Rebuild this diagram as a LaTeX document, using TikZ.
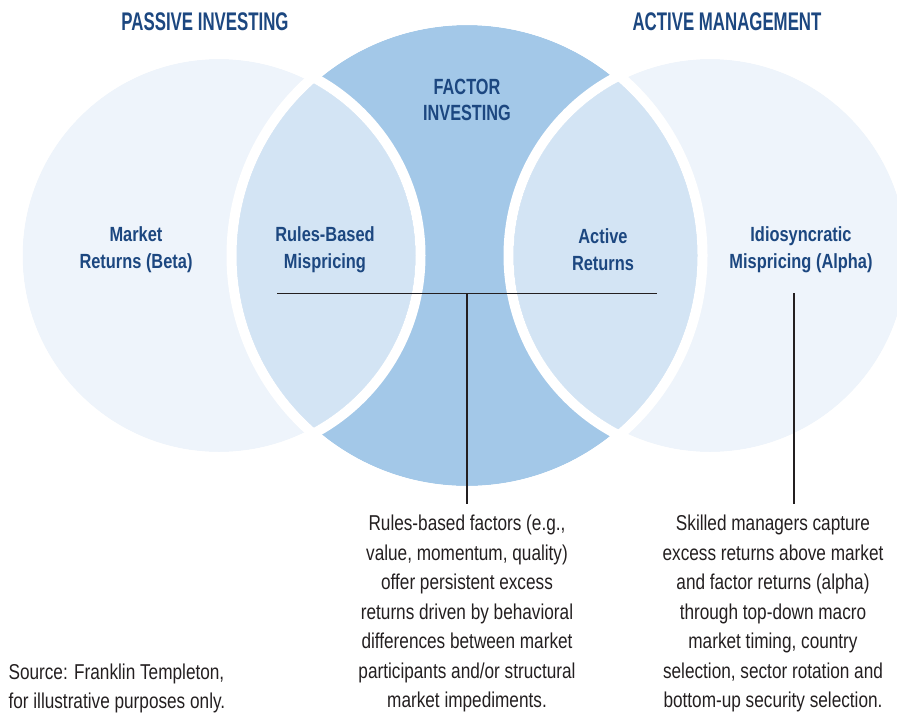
\documentclass[tikz,border=0pt]{standalone}
\usepackage{fontspec}
\newfontfamily\headfont[FakeStretch=0.66]{Liberation Sans}
\newfontfamily\factorfont[FakeStretch=0.74]{Liberation Sans}
\newfontfamily\txtfont[FakeStretch=0.8]{Liberation Sans}
\usetikzlibrary{positioning}

\definecolor{paleblue}{HTML}{EEF4FB}
\definecolor{lensblue}{HTML}{D3E4F4}
\definecolor{factorblue}{HTML}{A3C8E8}
\definecolor{navy}{HTML}{1C4780}
\definecolor{ink}{HTML}{231F20}

\tikzset{
  heading/.style={text=navy,font=\headfont\bfseries\fontsize{25.5}{30}\selectfont},
  factor/.style={text=navy,align=center,font=\factorfont\bfseries\fontsize{22}{26}\selectfont},
  label/.style={text=navy,align=center,font=\txtfont\bfseries\fontsize{20.5}{26.5}\selectfont},
  note/.style={text=ink,inner ysep=11pt,font=\txtfont\fontsize{21.5}{29.5}\selectfont},
  ring/.style={draw=white,line width=10pt},
  leader/.style={draw=ink,line width=1.2pt}
}

\begin{document}
\begin{tikzpicture}[x=1pt,y=-1pt]
\useasboundingbox (0,0) rectangle (897,713);

% Circles
\fill[paleblue] (219,255.5) circle[radius=196.5pt];
\fill[paleblue] (710,255.5) circle[radius=196.5pt];
\fill[factorblue] (467,255.5) circle[radius=230.5pt];
\begin{scope}
\clip (467,255.5) circle[radius=230.5pt];
\fill[lensblue] (219,255.5) circle[radius=196.5pt];
\fill[lensblue] (710,255.5) circle[radius=196.5pt];
\end{scope}
\draw[ring] (219,255.5) circle[radius=201.5pt];
\draw[ring] (710,255.5) circle[radius=201.5pt];
\draw[ring] (467,255.5) circle[radius=235.5pt];

% Headings
\node[heading] (passive) at (205,22) {PASSIVE INVESTING};
\node[heading] (active) at (727,22) {ACTIVE MANAGEMENT};
\node[factor] (factor) at (467,99.5) {FACTOR\\INVESTING};

% Labels
\node[label] (beta) at (136,249.5) {Market\\Returns (Beta)};
\node[label] (rules) at (325,249.5) {Rules-Based\\Mispricing};
\node[label] (activeret) at (603,249.5) {Active\\Returns};
\node[label] (alpha) at (801,249.5) {Idiosyncratic\\Mispricing (Alpha)};

% Notes
\node[note,align=center,anchor=north] (rulesnote) at (467,504)
  {Rules-based factors (e.g.,\\value, momentum, quality)\\offer persistent excess\\returns driven by behavioral\\differences between market\\participants and/or structural\\market impediments.};
\node[note,align=center,anchor=north] (alphanote) at (773,504)
  {Skilled managers capture\\excess returns above market\\and factor returns (alpha)\\through top-down macro\\market timing, country\\selection, sector rotation and\\bottom-up security selection.};
\node[note,align=left,anchor=west] (source) at (5,688.5)
  {Source: Franklin Templeton,\\for illustrative purposes only.};

% Leaders
\coordinate (hl) at (277,293.5);
\coordinate (hr) at (657,293.5);
\coordinate (hm) at (467,293.5);
\coordinate (am) at (794,293);
\draw[leader] (hl) -- (hr);
\draw[leader] (hm) -- (rulesnote.north);
\draw[leader] (am) -- (am |- alphanote.north);
\end{tikzpicture}
\end{document}
